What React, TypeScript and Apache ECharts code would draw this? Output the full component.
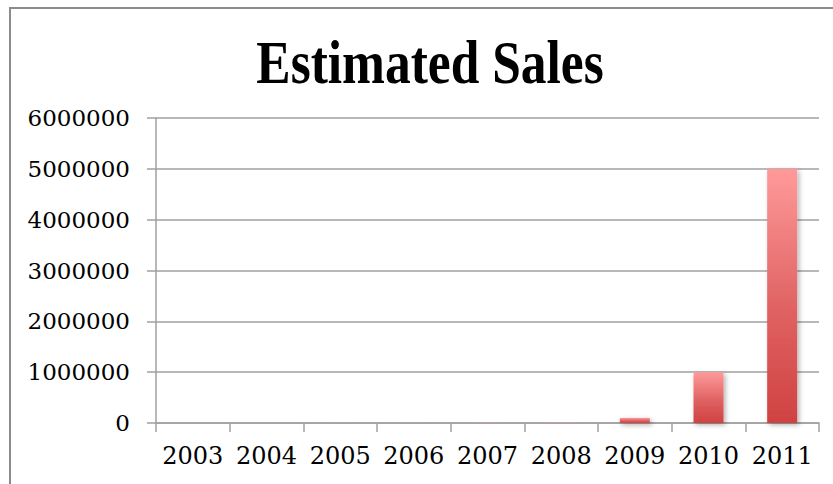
import React, { useEffect, useRef } from "react";
import * as echarts from "echarts";

const categories = ["2003", "2004", "2005", "2006", "2007", "2008", "2009", "2010", "2011"];
const salesValues = [0, 0, 1000, 2000, 3000, 5000, 100000, 1000000, 5000000];
const titleText = "Estimated Sales";

export default function App() {
  const ref = useRef<HTMLDivElement>(null);
  useEffect(() => {
    if (!ref.current) return;
    const chart = echarts.init(ref.current, null, { renderer: "svg" });
    const labelFont = "'DejaVu Serif', serif";
    chart.setOption({
      animation: false,
      backgroundColor: "#ffffff",
      graphic: [
        {
          type: "rect",
          shape: { x: 10, y: 8, width: 900, height: 600 },
          style: { fill: "none", stroke: "#8c8c8c", lineWidth: 2 },
          silent: true,
        },
        {
          type: "text",
          x: 430,
          y: 62,
          scaleX: 0.83,
          style: {
            text: titleText,
            font: "bold 62px 'Liberation Serif', serif",
            fill: "#000000",
            align: "center",
            verticalAlign: "middle",
          },
        },
      ],
      grid: { left: 156, right: 14, top: 118, bottom: 61, containLabel: false },
      xAxis: {
        type: "category",
        data: categories,
        boundaryGap: true,
        axisLine: { show: true, lineStyle: { color: "#a0a0a0", width: 1.5 } },
        axisTick: { show: true, length: 9, alignWithLabel: false, lineStyle: { color: "#a0a0a0", width: 1.5 } },
        axisLabel: {
          fontFamily: labelFont,
          fontSize: 24,
          lineHeight: 24,
          color: "#000000",
          margin: 21,
          interval: 0,
        },
        splitLine: { show: false },
      },
      yAxis: {
        type: "value",
        min: 0,
        max: 6000000,
        interval: 1000000,
        axisLine: { show: true, lineStyle: { color: "#a0a0a0", width: 1.5 } },
        axisTick: { show: true, length: 9, lineStyle: { color: "#a0a0a0", width: 1.5 } },
        axisLabel: {
          fontFamily: labelFont,
          fontSize: 23,
          color: "#000000",
          margin: 26,
          formatter: (v: number) => String(v),
        },
        splitLine: { show: true, lineStyle: { color: "#a0a0a0", width: 1.5 } },
      },
      series: [
        {
          type: "bar",
          data: salesValues,
          barWidth: 30,
          itemStyle: {
            color: new echarts.graphic.LinearGradient(0, 0, 0, 1, [
              { offset: 0, color: "#ff9a9a" },
              { offset: 0.55, color: "#e06262" },
              { offset: 1, color: "#d04242" },
            ]),
            shadowColor: "rgba(0,0,0,0.3)",
            shadowBlur: 5,
            shadowOffsetX: 2,
            shadowOffsetY: 2,
          },
        },
      ],
    });
    return () => chart.dispose();
  }, []);
  return (
    <div
      ref={ref}
      style={{ position: "fixed", left: 0, top: 0, width: 833, height: 484 }}
    />
  );
}
